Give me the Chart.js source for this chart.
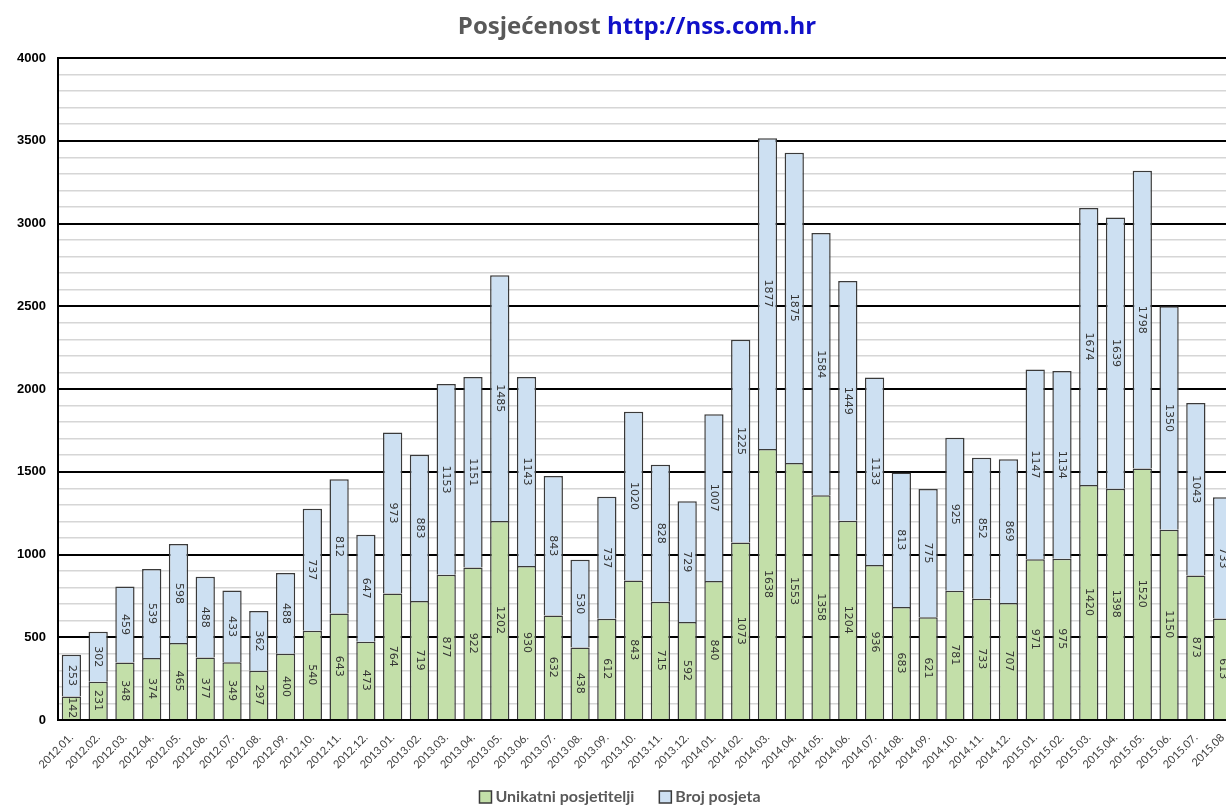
<!DOCTYPE html>
<html lang="hr">
<head>
<meta charset="UTF-8">
<title>Posjećenost http://nss.com.hr</title>
<script src="https://cdn.jsdelivr.net/npm/chart.js@4.4.0/dist/chart.umd.min.js"></script>
<style>
  html, body { margin: 0; padding: 0; background: #fff; overflow: hidden; }
  #wrap { width: 1236px; height: 807px; }
</style>
</head>
<body>
<div id="wrap"><canvas id="chart" width="1236" height="807"></canvas></div>
<script>
var months = ['2012.01.', '2012.02.', '2012.03.', '2012.04.', '2012.05.', '2012.06.', '2012.07.', '2012.08.', '2012.09.', '2012.10.', '2012.11.', '2012.12.',
              '2013.01.', '2013.02.', '2013.03.', '2013.04.', '2013.05.', '2013.06.', '2013.07.', '2013.08.', '2013.09.', '2013.10.', '2013.11.', '2013.12.',
              '2014.01.', '2014.02.', '2014.03.', '2014.04.', '2014.05.', '2014.06.', '2014.07.', '2014.08.', '2014.09.', '2014.10.', '2014.11.', '2014.12.',
              '2015.01.', '2015.02.', '2015.03.', '2015.04.', '2015.05.', '2015.06.', '2015.07.', '2015.08'];

var uniqueVisitors = [142, 231, 348, 374, 465, 377, 349, 297, 400, 540, 643, 473,
                      764, 719, 877, 922, 1202, 930, 632, 438, 612, 843, 715, 592,
                      840, 1073, 1638, 1553, 1358, 1204, 936, 683, 621, 781, 733, 707,
                      971, 975, 1420, 1398, 1520, 1150, 873, 613];

var visits = [253, 302, 459, 539, 598, 488, 433, 362, 488, 737, 812, 647,
              973, 883, 1153, 1151, 1485, 1143, 843, 530, 737, 1020, 828, 729,
              1007, 1225, 1877, 1875, 1584, 1449, 1133, 813, 775, 925, 852, 869,
              1147, 1134, 1674, 1639, 1798, 1350, 1043, 733];

// title in two colours: plain text + blue link
var titlePlugin = {
    id: 'twoColourTitle',
    afterDraw: function(chart) {
        var ctx = chart.ctx;
        var a = 'Posjećenost ', b = 'http://nss.com.hr';
        ctx.save();
        ctx.font = 'bold 24px "Open Sans"';
        var wa = ctx.measureText(a).width, wb = ctx.measureText(b).width;
        var x0 = 637 - (wa + wb) / 2;
        ctx.textBaseline = 'alphabetic';
        ctx.textAlign = 'left';
        ctx.fillStyle = '#595959';
        ctx.fillText(a, x0, 34);
        ctx.fillStyle = '#1010c8';
        ctx.fillText(b, x0 + wa, 34);
        ctx.restore();
    }
};

// legend drawn by hand so the gap between items and the bottom offset can be set
var legendPlugin = {
    id: 'bottomLegend',
    afterDraw: function(chart) {
        var ctx = chart.ctx;
        ctx.save();
        ctx.font = 'bold 16px Lato';
        var box = 12, gap = 4, between = 25;
        var items = chart.data.datasets.map(function(ds) {
            return { text: ds.label, fill: ds.backgroundColor, w: ctx.measureText(ds.label).width };
        });
        var total = 0;
        items.forEach(function(it, i) { total += box + gap + it.w + (i ? between : 0); });
        var x = 620 - total / 2, cy = 797;
        ctx.textBaseline = 'middle';
        ctx.textAlign = 'left';
        items.forEach(function(it, i) {
            if (i) x += between;
            ctx.fillStyle = it.fill;
            ctx.fillRect(x, cy - box / 2, box, box);
            ctx.strokeStyle = '#3a3a3a';
            ctx.lineWidth = 1.5;
            ctx.strokeRect(x, cy - box / 2, box, box);
            ctx.fillStyle = '#595959';
            ctx.fillText(it.text, x + box + gap, cy);
            x += box + gap + it.w;
        });
        ctx.restore();
    }
};

// vertical value labels in the middle of every segment
var barLabels = {
    id: 'barLabels',
    afterDatasetsDraw: function(chart) {
        var ctx = chart.ctx;
        ctx.save();
        ctx.font = '11px "DejaVu Sans"';
        ctx.fillStyle = '#333';
        ctx.textAlign = 'center';
        ctx.textBaseline = 'middle';
        chart.data.datasets.forEach(function(ds, i) {
            chart.getDatasetMeta(i).data.forEach(function(bar, j) {
                var p = bar.getProps(['x', 'y', 'base'], true);
                ctx.save();
                ctx.translate(p.x, (p.y + p.base) / 2);
                ctx.rotate(Math.PI / 2);
                ctx.fillText(ds.data[j], 0, 0);
                ctx.restore();
            });
        });
        ctx.restore();
    }
};

var ctx = document.getElementById('chart').getContext('2d');
var chart = new Chart(ctx, {
    type: 'bar',
    data: {
        labels: months,
        datasets: [
            {
                label: 'Unikatni posjetitelji',
                data: uniqueVisitors,
                backgroundColor: '#c3dfa9',
                borderColor: '#3a3a3a',
                borderWidth: 1.5
            },
            {
                label: 'Broj posjeta',
                data: visits,
                backgroundColor: '#cde0f2',
                borderColor: '#3a3a3a',
                borderWidth: 1.5
            }
        ]
    },
    options: {
        responsive: false,
        animation: false,
        layout: { padding: { top: 58, left: 0, right: 0, bottom: 27 } },
        datasets: { bar: { categoryPercentage: 1, barPercentage: 0.72 } },
        plugins: {
            title: { display: false },
            tooltip: { enabled: false },
            legend: { display: false }
        },
        scales: {
            x: {
                stacked: true,
                grid: { display: false },
                border: { color: '#000', width: 2 },
                ticks: {
                    autoSkip: false,
                    maxRotation: 45,
                    minRotation: 45,
                    color: '#404040',
                    font: { family: 'Lato', size: 11 }
                },
                afterFit: function(scale) { scale.height = 60; }
            },
            y: {
                stacked: true,
                min: 0,
                max: 4000,
                border: { color: '#000', width: 2 },
                grid: {
                    drawTicks: false,
                    color: function(c) { return c.tick.value % 500 === 0 ? '#000' : '#d6d6d6'; },
                    lineWidth: function(c) { return c.tick.value % 500 === 0 ? 2 : 1.5; }
                },
                ticks: {
                    stepSize: 100,
                    autoSkip: false,
                    padding: 12,
                    color: '#000',
                    font: { family: 'Liberation Sans', size: 13, weight: 'bold' },
                    callback: function(v) { return v % 500 === 0 ? v : ''; }
                },
                afterFit: function(scale) { scale.width = 58; }
            }
        }
    },
    plugins: [titlePlugin, barLabels, legendPlugin]
});
</script>
</body>
</html>
